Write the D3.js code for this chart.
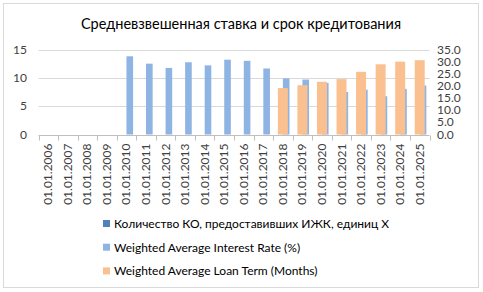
<!DOCTYPE html>
<html>
<head>
<meta charset="utf-8">
<script src="https://cdn.jsdelivr.net/npm/d3@7"></script>
<style>
  body { margin: 0; background: #fff; }
  text { font-family: Lato, "Open Sans", sans-serif; fill: #404040; }
</style>
</head>
<body>
<svg id="chart" width="483" height="292"></svg>
<script>
// categories (dates)
const dates = ['01.01.2006','01.01.2007','01.01.2008','01.01.2009','01.01.2010','01.01.2011','01.01.2012',
  '01.01.2013','01.01.2014','01.01.2015','01.01.2016','01.01.2017','01.01.2018','01.01.2019','01.01.2020',
  '01.01.2021','01.01.2022','01.01.2023','01.01.2024','01.01.2025']
// series values
const countKO = dates.map(() => null)  // empty series, legend only
const rateVals = [null,null,null,null,13.8,12.5,11.75,12.75,12.2,13.2,13.0,11.65,9.9,9.7,9.1,7.5,7.9,6.75,8.05,8.65]
const termVals = [null,null,null,null,null,null,null,null,null,null,null,null,19.1,20.3,21.7,22.8,25.8,28.9,30.0,30.6]
const leftTicks = [0,5,10,15]
const rightTicks = [0,5,10,15,20,25,30,35]
const legendNames = ['Количество КО, предоставивших ИЖК, единиц X','Weighted Average Interest Rate (%)','Weighted Average Loan Term (Months)']
const colors = ['#4F81BD','#8EB4E3','#FAC090']

const svg = d3.select('#chart')
const margin = {top: 49.5, bottom: 134.5, left: 38.5, right: 429.5}

// chart frame
svg.append('rect').attr('x',3.5).attr('y',3.5).attr('width',475).attr('height',284)
  .attr('fill','#fff').attr('stroke','#D9D9D9')

svg.append('text').attr('x',241).attr('y',29).attr('text-anchor','middle')
  .style('font-size','14.5px').style('fill','#000').text('Средневзвешенная ставка и срок кредитования')

var x = d3.scaleBand().domain(dates).range([margin.left, margin.right]).paddingInner(0).paddingOuter(0)
var yL = d3.scaleLinear().domain([0,15]).range([margin.bottom, margin.top])
var yR = d3.scaleLinear().domain([0,35]).range([margin.bottom, margin.top])

//gridlines
svg.append('g').selectAll('line').data(leftTicks.slice(1)).enter().append('line')
  .attr('x1',margin.left).attr('x2',margin.right)
  .attr('y1',d => Math.round(yL(d))+0.5).attr('y2',d => Math.round(yL(d))+0.5)
  .attr('stroke','#D9D9D9')

// left axis labels
svg.append('g').selectAll('text').data(leftTicks).enter().append('text')
  .attr('x',27).attr('y',d => yL(d)+4).attr('text-anchor','end')
  .style('font-size','12px').text(d => d)

// right axis labels
svg.append('g').selectAll('text').data(rightTicks).enter().append('text')
  .attr('x',437).attr('y',d => yR(d)+4)
  .style('font-size','12px').text(d => d.toFixed(1))

const bw = x.bandwidth()
// primary group: 2 series, gap ~95%
const wPrim = bw/2.955
const wSec = bw/1.955

svg.append('g').selectAll('rect').data(rateVals.map((v,i) => ({d: dates[i], v}))
  .filter(d => d.v != null)).enter().append('rect')
  .attr('x',d => x(d.d) + bw/2).attr('width',wPrim)
  .attr('y',d => yL(d.v)).attr('height',d => yL(0) - yL(d.v))
  .attr('fill',colors[1])

svg.append('g').selectAll('rect').data(termVals.map((v,i) => ({d: dates[i], v}))
  .filter(d => d.v != null)).enter().append('rect')
  .attr('x',d => x(d.d) + bw/2 - wSec/2).attr('width',wSec)
  .attr('y',d => yR(d.v)).attr('height',d => yR(0) - yR(d.v))
  .attr('fill',colors[2])

// x axis
var xAxis = svg.append('g').attr('transform',`translate(0,${Math.round(margin.bottom)+0.5})`)
xAxis.append('line').attr('x1',margin.left).attr('x2',margin.right).attr('stroke','#BFBFBF')
xAxis.selectAll('line.tick').data(dates.concat(['end'])).enter().append('line')
  .attr('class','tick')
  .attr('x1',(d,i) => Math.round(margin.left + i*bw)+0.5).attr('x2',(d,i) => Math.round(margin.left + i*bw)+0.5)
  .attr('y1',0).attr('y2',5).attr('stroke','#BFBFBF')
xAxis.selectAll('text').data(dates).enter().append('text')
  .attr('transform',d => `translate(${x(d)+bw/2+4},8) rotate(-90)`)
  .attr('text-anchor','end').style('font-size','12px').text(d => d)

// legend
var legend = svg.append('g').selectAll('g').data(legendNames).enter().append('g')
  .attr('transform',(d,i) => `translate(103,${223.5 + i*23.7})`)
legend.append('rect').attr('x',0).attr('y',-3.5).attr('width',7).attr('height',7)
  .attr('fill',(d,i) => colors[i])
legend.append('text').attr('x',11).attr('y',4.5).style('font-size','12px').style('fill','#000').text(d => d)
</script>
</body>
</html>
